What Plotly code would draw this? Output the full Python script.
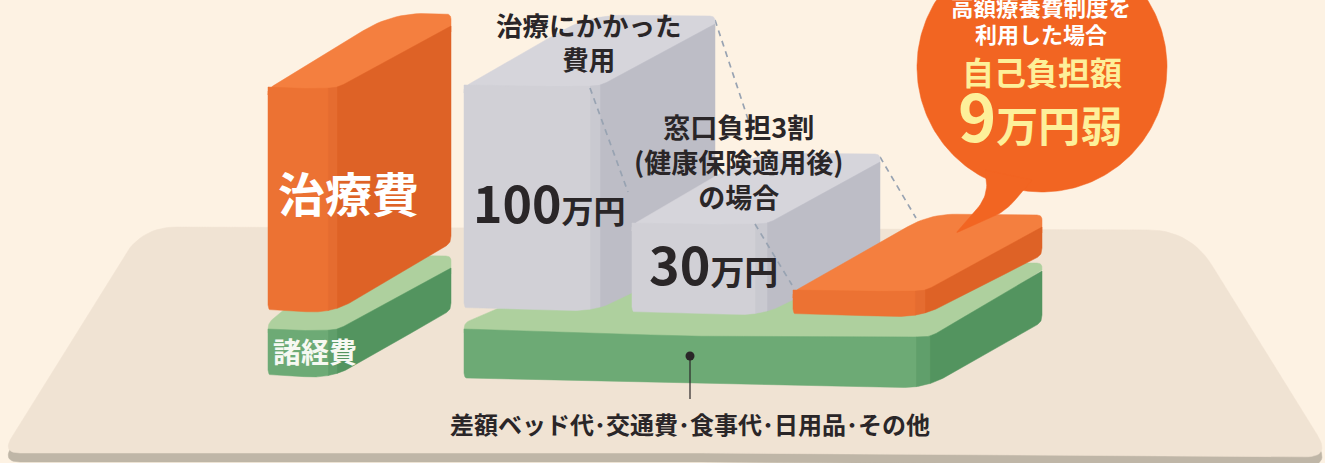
import numpy as np
import plotly.graph_objects as go

# Amounts shown on the stepped blocks (in 万円)
COST_VALUES = [100, 30, 9]
COST_UNIT = "万円"
COLUMN_VALUE = 100

# Caption texts
COLUMN_LABEL = "治療費"
SIDE_LABEL = "諸経費"
TOTAL_CAPTION = ["治療にかかった", "費用"]
WINDOW_CAPTION = ["窓口負担3割", "(健康保険適用後)", "の場合"]
BUBBLE_CAPTION = ["高額療養費制度を", "利用した場合"]
BUBBLE_HEAD = "自己負担額"
BUBBLE_SUFFIX = "弱"
OTHER_CAPTION = "差額ベッド代･交通費･食事代･日用品･その他"

FONT = "Noto Sans CJK JP"
INK = "#2a2628"
BG = "#fdf2e3"
FLOOR = "#f0e3d3"
RIM = "#bfb6a7"
ORANGE = dict(top="#f47f3f", front="#ec7233", strip="#e56c30", side="#de6226")
GRAY = dict(top="#d6d5db", front="#d1d0d6", strip="#c9c9d0", side="#bdbdc6")
GREEN = dict(top="#aed09e", front="#6daa75", strip="#609f6b", side="#53945f")


def block_height(value):
    # The blocks are an illustration, not drawn to a linear scale
    return float(np.interp(value, [0, 9, 30, 100], [0, 26, 91, 225]))


def rounded(points, radii):
    """Closed polygon with corners replaced by quadratic arcs."""
    pts = [np.array(p, float) for p in points]
    out = []
    n = len(pts)
    for i, p in enumerate(pts):
        r = radii[i]
        if r <= 0:
            out.append(p)
            continue
        a = pts[(i - 1) % n]
        b = pts[(i + 1) % n]
        ua = (a - p) / np.linalg.norm(a - p)
        ub = (b - p) / np.linalg.norm(b - p)
        s, e = p + ua * r, p + ub * r
        for t in np.linspace(0, 1, 14):
            out.append((1 - t) ** 2 * s + 2 * t * (1 - t) * p + t ** 2 * e)
    return np.array(out)


fig = go.Figure()


def fill(xy, color):
    xy = np.asarray(xy)
    fig.add_trace(go.Scatter(
        x=np.append(xy[:, 0], xy[0, 0]), y=np.append(xy[:, 1], xy[0, 1]),
        mode="lines", fill="toself", fillcolor=color,
        line=dict(color=color, width=0.5), hoverinfo="skip"))


def open_curve(points, radii):
    """Monotone edge through the points, with its inner corners softened."""
    pts = [np.array(p, float) for p in points]
    out = [pts[0]]
    for i in range(1, len(pts) - 1):
        p, r = pts[i], radii[i]
        ua = (pts[i - 1] - p) / np.linalg.norm(pts[i - 1] - p)
        ub = (pts[i + 1] - p) / np.linalg.norm(pts[i + 1] - p)
        s, e = p + ua * r, p + ub * r
        for t in np.linspace(0, 1, 14):
            out.append((1 - t) ** 2 * s + 2 * t * (1 - t) * p + t ** 2 * e)
    out.append(pts[-1])
    return np.array(out)


def block(x, base, w, s, dx, dy, h, colors, tilt=2.0, lift=10, back_r=34, rise=None, cap=10, front_lip=4):
    """Rounded box: top face, front, a shaded corner strip and a receding side."""
    rise = dy if rise is None else rise
    x1, x2, x3 = x + w, x + w + s, x + w + s + dx
    ytop = base - h

    fill(rounded([(x, ytop + front_lip), (x + dx + lift, ytop - dy - cap),
                  (x3, ytop - dy - cap + 1), (x3, ytop - dy + 9), (x2, ytop + tilt + 6),
                  (x, ytop + 6)],
                 [6, back_r, 5, 0, 0, 0]), colors["top"])

    top = open_curve([(x, ytop + 2), (x + w * 0.5, ytop + 2 + tilt * 0.8),
                      (x2, ytop + tilt + 1), (x3, ytop + tilt + 1 - dy)], [0, 6, 8, 0])
    bottom = open_curve([(x, base - 5), (x + 1, base), (x2 - 4, base + tilt + 1),
                         (x3, base + tilt + 1 - rise - 8), (x3, base + tilt - rise - 14)],
                        [0, 2, 24, 6, 0])

    def face(a, b, color):
        grid = np.arange(a, b + 0.25, 0.5)
        upper = np.interp(grid, top[:, 0], top[:, 1])
        lower = np.interp(grid, bottom[:, 0], bottom[:, 1])
        fill(np.vstack([np.c_[grid, upper], np.c_[grid, lower][::-1]]), color)

    face(x2, x3, colors["side"])
    face(x1, x2, colors["strip"])
    face(x, x1, colors["front"])


def dashed(x0, y0, x1, y1):
    fig.add_trace(go.Scatter(x=[x0, x1], y=[y0, y1], mode="lines",
                             line=dict(color="#98a3b2", width=1.7, dash="6px,5px"),
                             hoverinfo="skip"))


def label(x, y, text, size, color=INK, bold=False):
    fig.add_annotation(x=x, y=y, xref="x", yref="y", text=f"<b>{text}</b>" if bold else text,
                       showarrow=False, xanchor="center", yanchor="middle",
                       font=dict(family=FONT, size=size, color=color))


# Floor slab with its darker rim
floor_outline = [(2, 453), (142, 227), (1190, 230), (1331, 457), (700, 453)]
floor_radii = [18, 34, 42, 26, 0]
fill(rounded([(px, py + 9) for px, py in floor_outline], floor_radii), RIM)
fill(rounded(floor_outline, floor_radii), FLOOR)

# Left-hand reference column
block(268, 375, 60, 9, 114, 62, 48, GREEN, lift=-32, back_r=18, rise=60, front_lip=-4)
block(268, 310, 60, 9, 114, 62, block_height(COLUMN_VALUE), ORANGE, lift=10)

# Stepped blocks standing on the green slab
block(464, 378, 452, 14, 112, 66, 51, GREEN, tilt=9, lift=30, rise=58, cap=-1, front_lip=-4)
dashed(715, 20, 750, 125)
block(464, 308, 126, 10, 115, 62, block_height(COST_VALUES[0]), GRAY, lift=10, rise=50, cap=6)
dashed(590, 88, 628, 192)
dashed(880, 157, 916, 218)
block(632, 312, 123, 12, 113, 62, block_height(COST_VALUES[1]), GRAY, lift=10, rise=50, cap=6)
dashed(755, 224, 792, 285)
block(793, 314, 122, 10, 117, 64, block_height(COST_VALUES[2]), ORANGE, lift=20, back_r=26, rise=54)

# Speech bubble and its tail
theta = np.linspace(0, 2 * np.pi, 240)
fill(np.c_[1042 + 125 * np.cos(theta), 67 + 125 * np.sin(theta)], "#f26522")
fill(rounded([(985, 170), (989, 195), (956, 233), (1005, 212), (1032, 180)],
             [0, 18, 2, 16, 0]), "#f26522")

# Pointer from the slab to its caption
fig.add_trace(go.Scatter(x=[690, 690], y=[356, 399], mode="lines",
                         line=dict(color=INK, width=1.2), hoverinfo="skip"))
fig.add_trace(go.Scatter(x=[690], y=[356], mode="markers",
                         marker=dict(color=INK, size=9), hoverinfo="skip"))

# Labels
label(348, 191, COLUMN_LABEL, 47, "#ffffff", True)
label(315, 351, SIDE_LABEL, 28, "#f6f8f2", True)
label(589, 41, "<br>".join(TOTAL_CAPTION), 26.5, INK, True)
label(738, 161, "<br>".join(WINDOW_CAPTION), 27, INK, True)
amount = f'<span style="font-size:{{}}px">{{}}</span><span style="font-size:{{}}px">{COST_UNIT}</span>'
label(549, 201, amount.format(50, COST_VALUES[0], 32), 32, INK, True)
label(713, 262, amount.format(52, COST_VALUES[1], 34), 34, INK, True)
label(1041, 6, BUBBLE_CAPTION[0], 22.5, "#ffffff", True)
label(1041, 33, BUBBLE_CAPTION[1], 22, "#ffffff", True)
label(1042, 71, BUBBLE_HEAD, 32, "#fdf09a", True)
label(1040, 114, amount.format(65, COST_VALUES[2], 42) + f'<span style="font-size:42px">{BUBBLE_SUFFIX}</span>',
      42, "#fdf09a", True)
label(690, 423, OTHER_CAPTION, 24, INK, True)

fig.update_layout(
    width=1325, height=463, margin=dict(l=0, r=0, t=0, b=0), showlegend=False,
    paper_bgcolor=BG, plot_bgcolor=BG,
    xaxis=dict(range=[0, 1325], visible=False, fixedrange=True),
    yaxis=dict(range=[463, 0], visible=False, fixedrange=True),
)
fig.write_html("out.html", config=dict(displayModeBar=False))
